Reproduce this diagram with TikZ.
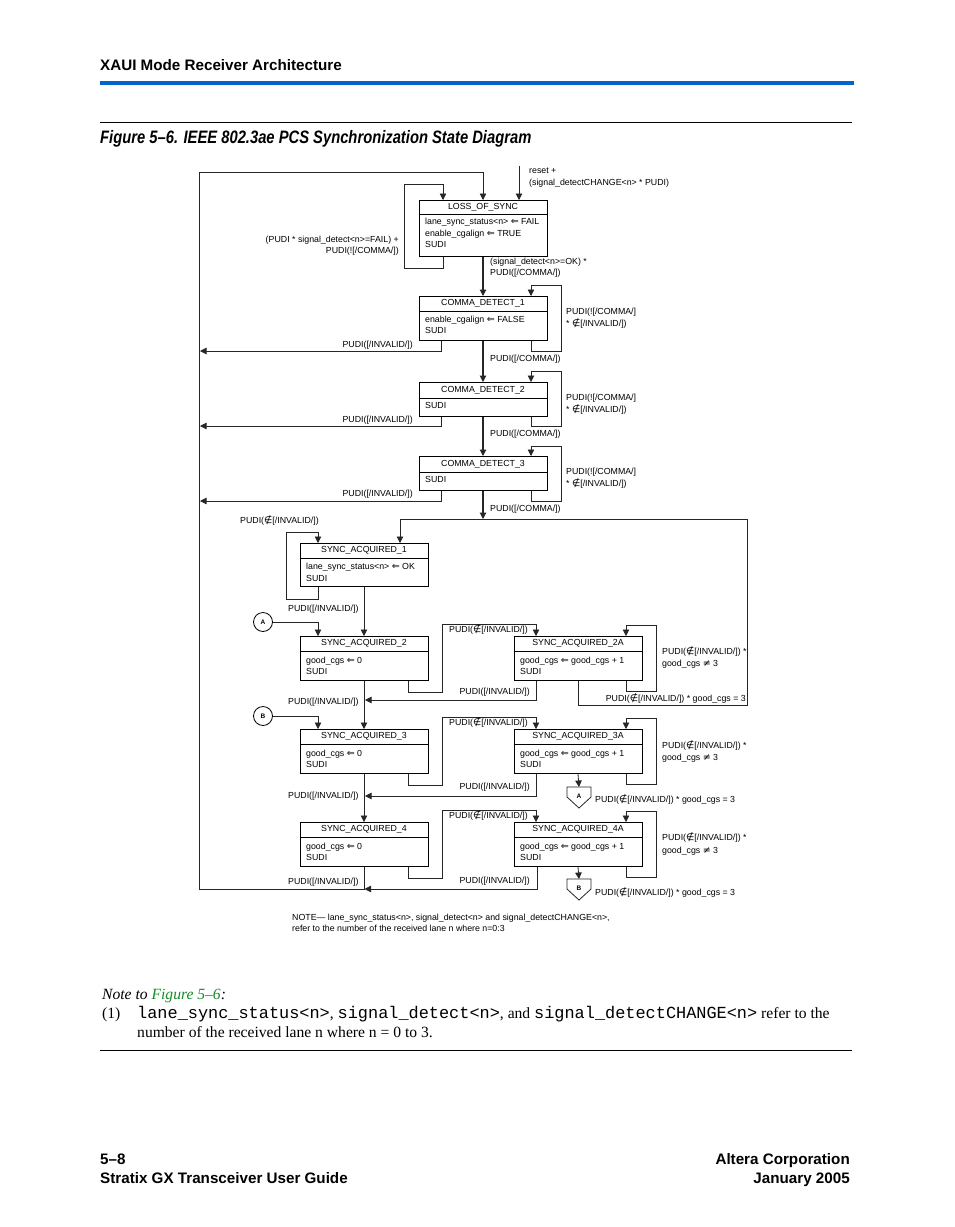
\documentclass[tikz,border=0pt]{standalone}
\usepackage{fontspec}
\setmainfont{Liberation Serif}
\setsansfont{Liberation Sans}
\setmonofont{Liberation Mono}
\newfontfamily\symf[Scale=1.08]{DejaVu Sans}
\newfontfamily\capfam[FakeStretch=0.82]{Liberation Sans}
\usetikzlibrary{arrows.meta}
\definecolor{hdrblue}{RGB}{0,102,204}
\definecolor{lnkgreen}{RGB}{20,140,40}
\newcommand\dfont{\fontsize{8.8}{10}\selectfont\sffamily}
\newcommand\lft{{\symf ⇐}}
\newcommand\nel{{\symf ∉}}
\newcommand\nq{{\symf ≠}}
\tikzset{
  st/.style={draw, line width=0.9pt, minimum width=128pt, inner sep=0pt, anchor=north},
  tt/.style={font=\dfont, inner sep=0pt, text height=6.3pt, text depth=1.8pt},
  ln/.style={line width=0.8pt, draw=black!85},
  sep/.style={line width=0.8pt},
  ar/.style={ln, -{Triangle[length=6.5pt,width=6.5pt]}},
  circ/.style={draw, circle, line width=0.8pt, minimum size=19pt, inner sep=0pt, font=\fontsize{6.5}{7}\selectfont\sffamily\bfseries},
  pl/.style={inner sep=0pt, font=\fontsize{6.5}{7}\selectfont\sffamily\bfseries}
}
\begin{document}
\begin{tikzpicture}[x=1pt,y=-1pt]
\useasboundingbox[fill=white] (0,0) rectangle (954,1227);
% ---- page header ----
\node[anchor=base west, inner sep=0pt, font=\fontsize{15.2}{18}\selectfont\sffamily\bfseries] (hdr) at (100,70.5) {XAUI Mode Receiver Architecture};
\fill[hdrblue] (100,80.5) rectangle (854,84.5);
\draw[line width=0.9pt] (100,122) -- (852,122);
\node[anchor=base west, inner sep=0pt, font=\fontsize{18}{20}\selectfont\capfam\bfseries\itshape] (cap) at (100,143) {Figure 5–6. IEEE 802.3ae PCS Synchronization State Diagram};
% ---- state boxes ----
\node[st, minimum height=56pt] (los) at (483,200) {};
\node[st, minimum height=44pt] (cd1) at (483,296) {};
\node[st, minimum height=34pt] (cd2) at (483,382) {};
\node[st, minimum height=34pt] (cd3) at (483,456) {};
\node[st, minimum height=43pt] (sa1) at (364,543) {};
\node[st, minimum height=44pt] (sa2) at (364,636) {};
\node[st, minimum height=44pt] (sa2a) at (578,636) {};
\node[st, minimum height=44pt] (sa3) at (364,729) {};
\node[st, minimum height=44pt] (sa3a) at (578,729) {};
\node[st, minimum height=44pt] (sa4) at (364,822) {};
\node[st, minimum height=44pt] (sa4a) at (578,822) {};
% separators
\draw[sep] (los.west |- 0,214) -- (los.east |- 0,214);
\draw[sep] (cd1.west |- 0,311) -- (cd1.east |- 0,311);
\draw[sep] (cd2.west |- 0,398) -- (cd2.east |- 0,398);
\draw[sep] (cd3.west |- 0,472) -- (cd3.east |- 0,472);
\draw[sep] (sa1.west |- 0,558) -- (sa1.east |- 0,558);
\draw[sep] (sa2.west |- 0,651) -- (sa2.east |- 0,651);
\draw[sep] (sa2a.west |- 0,651) -- (sa2a.east |- 0,651);
\draw[sep] (sa3.west |- 0,744) -- (sa3.east |- 0,744);
\draw[sep] (sa3a.west |- 0,744) -- (sa3a.east |- 0,744);
\draw[sep] (sa4.west |- 0,837) -- (sa4.east |- 0,837);
\draw[sep] (sa4a.west |- 0,837) -- (sa4a.east |- 0,837);
% titles
\node[tt] (los-t) at (483,207) {LOSS\_OF\_SYNC};
\node[tt] (cd1-t) at (483,303.5) {COMMA\_DETECT\_1};
\node[tt] (cd2-t) at (483,390) {COMMA\_DETECT\_2};
\node[tt] (cd3-t) at (483,464) {COMMA\_DETECT\_3};
\node[tt] (sa1-t) at (364,550.5) {SYNC\_ACQUIRED\_1};
\node[tt] (sa2-t) at (364,643.5) {SYNC\_ACQUIRED\_2};
\node[tt] (sa2a-t) at (578,643.5) {SYNC\_ACQUIRED\_2A};
\node[tt] (sa3-t) at (364,736.5) {SYNC\_ACQUIRED\_3};
\node[tt] (sa3a-t) at (578,736.5) {SYNC\_ACQUIRED\_3A};
\node[tt] (sa4-t) at (364,829.5) {SYNC\_ACQUIRED\_4};
\node[tt] (sa4a-t) at (578,829.5) {SYNC\_ACQUIRED\_4A};
% bodies
\node[tt, anchor=west] (los-b1) at (425,222) {lane\_sync\_status<n> \lft\ FAIL};
\node[tt, anchor=west] (los-b2) at (425,234) {enable\_cgalign \lft\ TRUE};
\node[tt, anchor=west] (los-b3) at (425,245.5) {SUDI};
\node[tt, anchor=west] (cd1-b1) at (425,320) {enable\_cgalign \lft\ FALSE};
\node[tt, anchor=west] (cd1-b2) at (425,331.5) {SUDI};
\node[tt, anchor=west] (cd2-b1) at (425,406.5) {SUDI};
\node[tt, anchor=west] (cd3-b1) at (425,480.5) {SUDI};
\node[tt, anchor=west] (sa1-b1) at (306,567.5) {lane\_sync\_status<n> \lft\ OK};
\node[tt, anchor=west] (sa1-b2) at (306,579) {SUDI};
\node[tt, anchor=west] (sa2-b1) at (306,661) {good\_cgs \lft\ 0};
\node[tt, anchor=west] (sa2-b2) at (306,672.5) {SUDI};
\node[tt, anchor=west] (sa2a-b1) at (520,661) {good\_cgs \lft\ good\_cgs + 1};
\node[tt, anchor=west] (sa2a-b2) at (520,672.5) {SUDI};
\node[tt, anchor=west] (sa3-b1) at (306,754) {good\_cgs \lft\ 0};
\node[tt, anchor=west] (sa3-b2) at (306,765.5) {SUDI};
\node[tt, anchor=west] (sa3a-b1) at (520,754) {good\_cgs \lft\ good\_cgs + 1};
\node[tt, anchor=west] (sa3a-b2) at (520,765.5) {SUDI};
\node[tt, anchor=west] (sa4-b1) at (306,847) {good\_cgs \lft\ 0};
\node[tt, anchor=west] (sa4-b2) at (306,858.5) {SUDI};
\node[tt, anchor=west] (sa4a-b1) at (520,847) {good\_cgs \lft\ good\_cgs + 1};
\node[tt, anchor=west] (sa4a-b2) at (520,858.5) {SUDI};
% ---- connectors ----
\coordinate (rst) at (519,166);
\coordinate (j0) at (483,519);
\coordinate (j4) at (364.5,889);
\draw[ar] (rst) -- (519,0 |- los.north);
\draw[ar] (sa4.south) -- (364,889) -- (199,889) -- (199,172) -- (483,172) -- (los.north);
\draw[ar] (443,0 |- los.south) -- (443,268) -- (404,268) -- (404,184) -- (443,184) -- (443,0 |- los.north);
\draw[ar, line width=1.1pt] (los.south) -- (cd1.north);
\draw[ar] (531,0 |- cd1.south) -- (531,351) -- (561,351) -- (561,285) -- (531,285) -- (531,0 |- cd1.north);
\draw[ar] (441,0 |- cd1.south) -- (441,351) -- (200,351);
\draw[ar, line width=1.1pt] (cd1.south) -- (cd2.north);
\draw[ar] (531,0 |- cd2.south) -- (531,426) -- (561,426) -- (561,371) -- (531,371) -- (531,0 |- cd2.north);
\draw[ar] (441,0 |- cd2.south) -- (441,426) -- (200,426);
\draw[ar, line width=1.1pt] (cd2.south) -- (cd3.north);
\draw[ar] (531,0 |- cd3.south) -- (531,501) -- (561,501) -- (561,446) -- (531,446) -- (531,0 |- cd3.north);
\draw[ar] (441,0 |- cd3.south) -- (441,501) -- (200,501);
\draw[ar, line width=1.1pt] (cd3.south) -- (j0);
\draw[ar] (578,0 |- sa2a.south) -- (578,705) -- (747,705) -- (747,519) -- (400,519) -- (400,0 |- sa1.north);
\draw[ar] (318,0 |- sa1.south) -- (318,599) -- (286,599) -- (286,532) -- (318,532) -- (318,0 |- sa1.north);
\draw[ar] (sa1.south) -- (sa2.north);
\node[circ] (ca) at (263,622) {A};
\node[circ] (cb) at (263,716) {B};
\draw[ar] (ca.east) -- (318,622) -- (318,0 |- sa2.north);
\draw[ar] (cb.east) -- (318,716) -- (318,0 |- sa3.north);
\draw[ar] (408,0 |- sa2.south) -- (408,692) -- (442,692) -- (442,624) -- (536,624) -- (536,0 |- sa2a.north);
\draw[ar] (626,0 |- sa2a.south) -- (626,691) -- (656,691) -- (656,625) -- (626,625) -- (626,0 |- sa2a.north);
\draw[ar] (536,0 |- sa2a.south) -- (536,700) -- (365,700);
\draw[ar] (sa2.south) -- (sa3.north);
\draw[ar] (408,0 |- sa3.south) -- (408,785) -- (442,785) -- (442,717) -- (536,717) -- (536,0 |- sa3a.north);
\draw[ar] (626,0 |- sa3a.south) -- (626,784) -- (656,784) -- (656,718) -- (626,718) -- (626,0 |- sa3a.north);
\draw[ar] (536,0 |- sa3a.south) -- (536,796) -- (365,796);
\draw[ar] (sa3.south) -- (sa4.north);
\draw[ar] (408,0 |- sa4.south) -- (408,878) -- (442,878) -- (442,810) -- (536,810) -- (536,0 |- sa4a.north);
\draw[ar] (626,0 |- sa4a.south) -- (626,877) -- (656,877) -- (656,811) -- (626,811) -- (626,0 |- sa4a.north);
\draw[ar] (537,0 |- sa4a.south) -- (537,889) -- (j4);
% off-page connectors
\node[pl] (pA) at (579,796) {A};
\node[pl] (pB) at (579,888) {B};
\coordinate (pAt) at (579,787);
\coordinate (pBt) at (579,879);
\draw[ln] (567,787) -- (591,787) -- (591,797) -- (579,808) -- (567,797) -- cycle;
\draw[ln] (567,879) -- (591,879) -- (591,889) -- (579,900) -- (567,889) -- cycle;
\draw[ar] (578,0 |- sa3a.south) -- (pAt);
\draw[ar] (578,0 |- sa4a.south) -- (pBt);
% ---- labels ----
\node[tt, anchor=west] (l1a) at (529,171) {reset +};
\node[tt, anchor=west] (l1b) at (529,183) {(signal\_detectCHANGE<n> * PUDI)};
\node[tt, anchor=east] (l2a) at (399,240) {(PUDI * signal\_detect<n>=FAIL) +};
\node[tt, anchor=east] (l2b) at (399,251) {PUDI(![/COMMA/])};
\node[tt, anchor=west] (l3a) at (490,262) {(signal\_detect<n>=OK) *};
\node[tt, anchor=west] (l3b) at (490,273) {PUDI([/COMMA/])};
\node[tt, anchor=west] (l4a) at (566,312) {PUDI(![/COMMA/]};
\node[tt, anchor=west] (l4b) at (566,324) {* \nel[/INVALID/])};
\node[tt, anchor=east] (l5) at (413,345) {PUDI([/INVALID/])};
\node[tt, anchor=west] (l6) at (490,359) {PUDI([/COMMA/])};
\node[tt, anchor=west] (l7a) at (566,398) {PUDI(![/COMMA/]};
\node[tt, anchor=west] (l7b) at (566,410) {* \nel[/INVALID/])};
\node[tt, anchor=east] (l8) at (413,420) {PUDI([/INVALID/])};
\node[tt, anchor=west] (l9) at (490,434) {PUDI([/COMMA/])};
\node[tt, anchor=west] (l10a) at (566,472) {PUDI(![/COMMA/]};
\node[tt, anchor=west] (l10b) at (566,484) {* \nel[/INVALID/])};
\node[tt, anchor=east] (l11) at (413,494) {PUDI([/INVALID/])};
\node[tt, anchor=west] (l12) at (490,509) {PUDI([/COMMA/])};
\node[tt, anchor=west] (l13) at (240,521) {PUDI(\nel[/INVALID/])};
\node[tt, anchor=west] (l14) at (288,609) {PUDI([/INVALID/])};
\node[tt, anchor=west] (l15) at (449,630) {PUDI(\nel[/INVALID/])};
\node[tt, anchor=west] (l16a) at (662,652) {PUDI(\nel[/INVALID/]) *};
\node[tt, anchor=west] (l16b) at (662,664) {good\_cgs \nq\ 3};
\node[tt, anchor=east] (l17) at (530,692) {PUDI([/INVALID/])};
\node[tt, anchor=east] (l18) at (746,699) {PUDI(\nel[/INVALID/]) * good\_cgs = 3};
\node[tt, anchor=west] (l19) at (288,702) {PUDI([/INVALID/])};
\node[tt, anchor=west] (l20) at (449,723) {PUDI(\nel[/INVALID/])};
\node[tt, anchor=west] (l21a) at (662,746) {PUDI(\nel[/INVALID/]) *};
\node[tt, anchor=west] (l21b) at (662,758) {good\_cgs \nq\ 3};
\node[tt, anchor=east] (l22) at (530,787) {PUDI([/INVALID/])};
\node[tt, anchor=west] (l23) at (288,796) {PUDI([/INVALID/])};
\node[tt, anchor=west] (l24) at (595,800) {PUDI(\nel[/INVALID/]) * good\_cgs = 3};
\node[tt, anchor=west] (l25) at (449,816) {PUDI(\nel[/INVALID/])};
\node[tt, anchor=west] (l26a) at (662,838) {PUDI(\nel[/INVALID/]) *};
\node[tt, anchor=west] (l26b) at (662,851) {good\_cgs \nq\ 3};
\node[tt, anchor=west] (l27) at (288,882) {PUDI([/INVALID/])};
\node[tt, anchor=east] (l28) at (530,881) {PUDI([/INVALID/])};
\node[tt, anchor=west] (l29) at (595,893) {PUDI(\nel[/INVALID/]) * good\_cgs = 3};
\node[tt, anchor=west] (n1) at (292,918) {NOTE— lane\_sync\_status<n>, signal\_detect<n> and signal\_detectCHANGE<n>,};
\node[tt, anchor=west] (n2) at (292,929.5) {refer to the number of the received lane n where n=0:3};
% ---- note to figure ----
\node[anchor=base west, inner sep=0pt, font=\fontsize{15.6}{18}\selectfont\itshape] (nt) at (102,999) {Note to \textcolor{lnkgreen}{Figure 5–6}:};
\node[anchor=base west, inner sep=0pt, font=\fontsize{15.6}{18}\selectfont] (n1n) at (102,1018) {(1)};
\node[anchor=base west, inner sep=0pt, font=\fontsize{15.6}{18}\selectfont] (n1t) at (137,1018) {{\fontsize{16.9}{18}\selectfont\ttfamily lane\_sync\_status<n>}, {\fontsize{16.9}{18}\selectfont\ttfamily signal\_detect<n>}, and {\fontsize{16.9}{18}\selectfont\ttfamily signal\_detectCHANGE<n>} refer to the};
\node[anchor=base west, inner sep=0pt, font=\fontsize{15.6}{18}\selectfont] (n2t) at (137,1037) {number of the received lane n where n = 0 to 3.};
\draw[line width=0.9pt] (100,1050) -- (852,1050);
% ---- footer ----
\node[anchor=base west, inner sep=0pt, font=\fontsize{15.2}{18}\selectfont\sffamily\bfseries] (f1) at (100,1164) {5–8};
\node[anchor=base west, inner sep=0pt, font=\fontsize{15.2}{18}\selectfont\sffamily\bfseries] (f2) at (100,1183) {Stratix GX Transceiver User Guide};
\node[anchor=base east, inner sep=0pt, font=\fontsize{15.2}{18}\selectfont\sffamily\bfseries] (f3) at (850,1164) {Altera Corporation};
\node[anchor=base east, inner sep=0pt, font=\fontsize{15.2}{18}\selectfont\sffamily\bfseries] (f4) at (850,1183) {January 2005};
\end{tikzpicture}
\end{document}
